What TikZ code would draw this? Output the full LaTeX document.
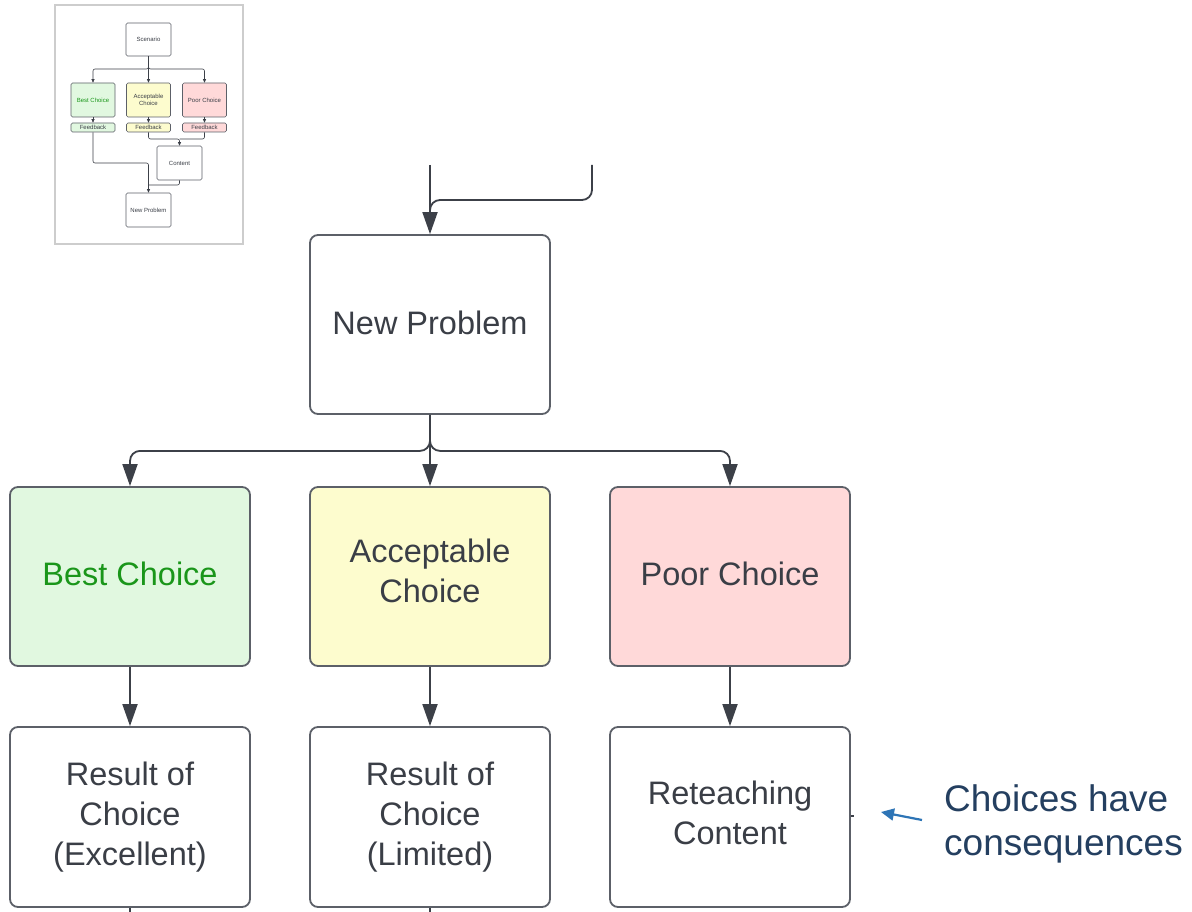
\documentclass[tikz,border=0pt]{standalone}
\usepackage{fontspec}
\setmainfont{Liberation Sans}
\usetikzlibrary{arrows.meta}
\definecolor{bordc}{RGB}{92,96,104}
\definecolor{linec}{RGB}{60,64,72}
\definecolor{txtc}{RGB}{58,62,70}
\definecolor{gfill}{RGB}{225,248,224}
\definecolor{gtext}{RGB}{26,150,26}
\definecolor{yfill}{RGB}{253,252,206}
\definecolor{pfill}{RGB}{255,217,217}
\definecolor{bluearr}{RGB}{46,117,182}
\definecolor{bluetxt}{RGB}{36,63,96}
\definecolor{framec}{RGB}{205,205,205}
\tikzset{
  bigbox/.style={draw=bordc, line width=1.8pt, rounded corners=8pt, fill=white,
    minimum width=240pt, minimum height=179pt, inner sep=0pt, align=center,
    text=txtc, font=\fontsize{32.5}{40}\selectfont},
  boxtext/.style={inner sep=0pt, align=center, text=txtc, font=\fontsize{32.5}{40}\selectfont},
  conn/.style={draw=linec, line width=1.8pt},
  arr/.style={conn, -{Triangle[width=15pt,length=22pt]}},
  smallbox/.style={draw=bordc, line width=0.6pt, rounded corners=1.5pt, fill=white,
    minimum width=45pt, minimum height=33pt, inner sep=0pt, align=center,
    text=txtc, font=\fontsize{6}{7}\selectfont},
  fbbox/.style={smallbox, minimum height=9pt},
  tconn/.style={draw=linec, line width=0.6pt},
  tarr/.style={tconn, -{Triangle[width=3pt,length=3.5pt]}},
}
\begin{document}
\begin{tikzpicture}[x=1pt,y=-1pt]
\useasboundingbox (0,0) rectangle (1192,912);
\fill[white] (0,0) rectangle (1192,912);

% ---------- thumbnail ----------
\draw[framec, line width=1.5pt] (55,5) rectangle (243,244);
\node[smallbox] (sc) at (148.5,39.5) {Scenario};
\node[smallbox, minimum width=44pt, minimum height=34pt, fill=gfill, text=gtext] (tb) at (93,100) {Best Choice};
\node[smallbox, minimum width=44pt, minimum height=34pt, fill=yfill] (ta) at (148.5,100) {Acceptable\\Choice};
\node[smallbox, minimum width=44pt, minimum height=34pt, fill=pfill] (tp) at (204.5,100) {Poor Choice};
\node[fbbox, minimum width=44pt, fill=gfill] (f1) at (93,127.5) {Feedback};
\node[fbbox, minimum width=44pt, fill=yfill] (f2) at (148.5,127.5) {Feedback};
\node[fbbox, minimum width=44pt, fill=pfill] (f3) at (204.5,127.5) {Feedback};
\node[smallbox, minimum height=34pt] (ct) at (179.5,163) {Content};
\node[smallbox, minimum height=34pt] (tn) at (148.5,210) {New Problem};
\draw[tarr] (sc.south) -- (ta.north);
\draw[tarr, rounded corners=2pt] (sc.south) |- (120,69) -| (tb.north);
\draw[tarr, rounded corners=2pt] (sc.south) |- (176,69) -| (tp.north);
\draw[tarr] (tb.south) -- (f1.north);
\draw[tarr] (ta.south) -- (f2.north);
\draw[tarr] (tp.south) -- (f3.north);
\draw[tarr, rounded corners=2pt] (f2.south) |- (165,139) -| (ct.north);
\draw[tconn, rounded corners=2pt] (f3.south) |- (179.5,139);
\draw[tarr, rounded corners=2pt] (f1.south) |- (120,163) -| (tn.north);
\draw[tconn, rounded corners=2pt] (ct.south) |- (148.5,185);

% ---------- main ----------
\node[bigbox, label={[boxtext, yshift=2pt]center:New Problem}] (np) at (430,324.5) {};
\node[bigbox, fill=gfill, label={[boxtext, text=gtext, yshift=3pt]center:Best Choice}] (best) at (130,576.5) {};
\node[bigbox, fill=yfill, label={[boxtext, yshift=5.5pt]center:Acceptable\\Choice}] (acc) at (430,576.5) {};
\node[bigbox, fill=pfill, label={[boxtext, yshift=3pt]center:Poor Choice}] (poor) at (730,576.5) {};
\node[bigbox, minimum height=180pt] (r1) at (130,817) {Result of\\Choice\\(Excellent)};
\node[bigbox, minimum height=180pt] (r2) at (430,817) {Result of\\Choice\\(Limited)};
\node[bigbox, minimum height=180pt, label={[boxtext, yshift=4pt]center:Reteaching\\Content}] (r3) at (730,817) {};

\coordinate (t1) at (430,165);
\coordinate (t2) at (592,165);
\draw[arr] (t1) -- (np.north);
\draw[conn, rounded corners=10pt] (t2) -- (592,200) -- (430,200) -- (430,212);

\draw[arr] (np.south) -- (acc.north);
\draw[arr, rounded corners=10pt] (np.south) -- ++(0,36) -| (best.north);
\draw[arr, rounded corners=10pt] (np.south) -- ++(0,36) -| (poor.north);

\draw[arr] (best.south) -- (r1.north);
\draw[arr] (acc.south) -- (r2.north);
\draw[arr] (poor.south) -- (r3.north);

\coordinate (e1) at (130,914);
\coordinate (e2) at (430,914);
\draw[conn] (r1.south) -- (e1);
\draw[conn] (r2.south) -- (e2);
\coordinate (e3) at (854,816);
\draw[conn, line width=1.2pt] (r3.east |- e3) -- (e3);

% ---------- annotation ----------
\node[anchor=west, align=left, text=bluetxt, font=\fontsize{37}{44}\selectfont, inner sep=0pt] (note) at (944,823.5) {Choices have\\consequences};
\coordinate (bt) at (922,820);
\coordinate (bh) at (881,812);
\draw[bluearr, line width=2.2pt, -{Triangle[width=12pt,length=13pt]}] (bt) -- (bh);
\end{tikzpicture}
\end{document}
